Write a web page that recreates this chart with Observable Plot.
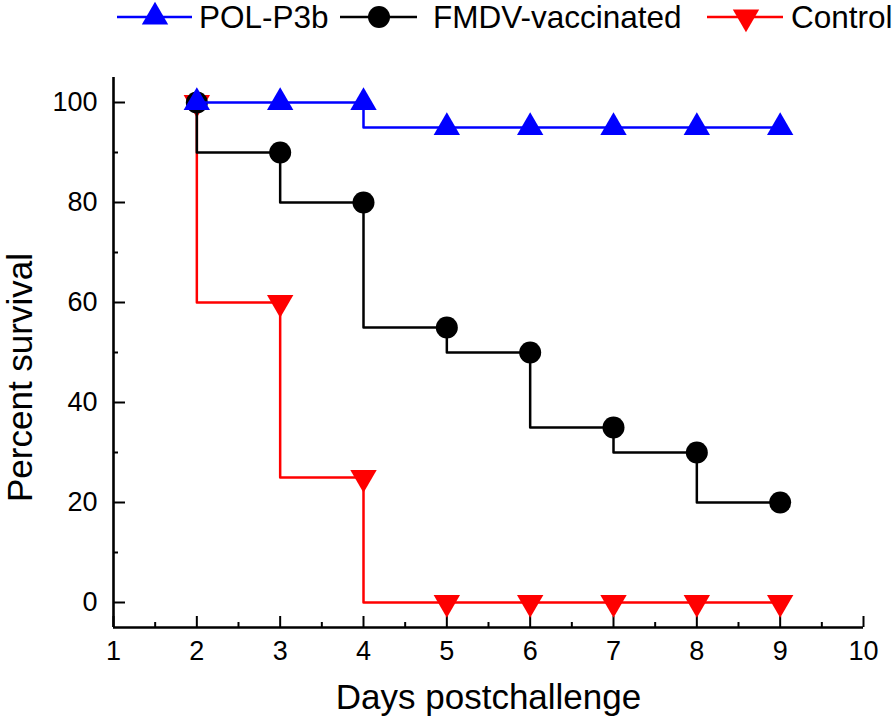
<!DOCTYPE html>
<html><head><meta charset="utf-8">
<script src="https://cdn.jsdelivr.net/npm/d3@7"></script>
<script src="https://cdn.jsdelivr.net/npm/@observablehq/plot@0.6"></script>
<style>
body{margin:0;background:#fff;font-family:"Liberation Sans",Arial,sans-serif;}
#wrap{position:relative;width:896px;height:727px;}
#legend{position:absolute;left:0;top:0;}
</style></head><body>
<div id="wrap"><div id="chart"></div><div id="legend"></div></div>
<script>
// ---- data ----
const days = [2, 3, 4, 5, 6, 7, 8, 9];
const polP3b = [100, 100, 100, 95, 95, 95, 95, 95];
const fmdvVaccinated = [100, 90, 80, 55, 50, 35, 30, 20];
const control = [100, 60, 25, 0, 0, 0, 0, 0];
const seriesNames = ["POL-P3b", "FMDV-vaccinated", "Control"];
const seriesValues = [polP3b, fmdvVaccinated, control];
const xTicks = [1, 2, 3, 4, 5, 6, 7, 8, 9, 10];
const xMinorTicks = [1.5, 2.5, 3.5, 4.5, 5.5, 6.5, 7.5, 8.5, 9.5];
const yTicks = [0, 20, 40, 60, 80, 100];
const yMinorTicks = [10, 30, 50, 70, 90];
const xLabel = "Days postchallenge";
const yLabel = "Percent survival";

// ---- styles ----
const colors = {"POL-P3b": "#0000ff", "FMDV-vaccinated": "#000000", "Control": "#ff0000"};
const symbols = {"POL-P3b": "triangle", "FMDV-vaccinated": "circle", "Control": "triangle"};
const rotations = {"POL-P3b": 0, "FMDV-vaccinated": 0, "Control": 180};
const radii = {"POL-P3b": 9.8, "FMDV-vaccinated": 11, "Control": 9.8};
const FONT = '"Liberation Sans", Arial, sans-serif';

const rows = seriesNames.map((name, i) => days.map((d, j) => ({series: name, day: d, value: seriesValues[i][j]})));
const drawOrder = ["Control", "FMDV-vaccinated", "POL-P3b"];

const seriesMarks = drawOrder.flatMap(name => {
  const data = rows[seriesNames.indexOf(name)];
  return [
    Plot.line(data, {x: "day", y: "value", curve: "step-before", stroke: colors[name], strokeWidth: 2.5}),
    Plot.dot(data, {x: "day", y: "value", symbol: symbols[name], r: radii[name], fill: colors[name], stroke: "none", rotate: rotations[name]})
  ];
});

const chart = Plot.plot({
  width: 896,
  height: 727,
  marginLeft: 113,
  marginRight: 33,
  marginTop: 77,
  marginBottom: 100,
  style: {fontFamily: FONT, fontSize: "27px", color: "#000", background: "transparent"},
  x: {domain: [1, 10]},
  y: {domain: [-5, 105]},
  marks: [
    Plot.ruleY([-5], {stroke: "#000", strokeWidth: 2.6}),
    Plot.ruleX([1], {stroke: "#000", strokeWidth: 2.6}),
    Plot.axisX({ticks: xTicks, tickSize: -11, tickPadding: 24, tickFormat: d => String(d), strokeWidth: 2, fontSize: 27, label: null}),
    Plot.axisX({ticks: xMinorTicks, tickSize: -5, text: null, strokeWidth: 2, label: null}),
    Plot.axisY({ticks: yTicks, tickSize: -12, tickPadding: 28, tickFormat: d => String(d), strokeWidth: 2, fontSize: 27, label: null}),
    Plot.axisY({ticks: yMinorTicks, tickSize: -5, text: null, strokeWidth: 2, label: null}),
    Plot.text([xLabel], {text: d => d, frameAnchor: "bottom", textAnchor: "middle", lineAnchor: "bottom", dy: 81, fontSize: 35, fill: "#000"}),
    Plot.text([yLabel], {text: d => d, frameAnchor: "left", textAnchor: "middle", lineAnchor: "middle", rotate: -90, dx: -93, dy: 25, fontSize: 35, fill: "#000"}),
    ...seriesMarks
  ]
});
document.getElementById("chart").appendChild(chart);

// ---- legend (layout only) ----
const legendLayout = [
  {x0: 117, x1: 192, cx: 155, tx: 199},
  {x0: 340, x1: 417, cx: 379, tx: 433},
  {x0: 707, x1: 783, cx: 746, tx: 791}
];
const lg = d3.select("#legend").append("svg").attr("width", 896).attr("height", 42)
  .style("font-family", FONT);
seriesNames.forEach((name, i) => {
  const L = legendLayout[i];
  const g = lg.append("g");
  g.append("line").attr("x1", L.x0).attr("x2", L.x1).attr("y1", 17).attr("y2", 17)
    .attr("stroke", colors[name]).attr("stroke-width", 2.5);
  const sym = symbols[name] === "circle" ? d3.symbolCircle : d3.symbolTriangle;
  const r = radii[name];
  g.append("path").attr("d", d3.symbol(sym, Math.PI * r * r)())
    .attr("transform", `translate(${L.cx},17) rotate(${rotations[name]})`)
    .attr("fill", colors[name]);
  g.append("text").attr("x", L.tx).attr("y", 28).attr("font-size", 31.5).attr("fill", "#000").text(name);
});
</script>
</body></html>
